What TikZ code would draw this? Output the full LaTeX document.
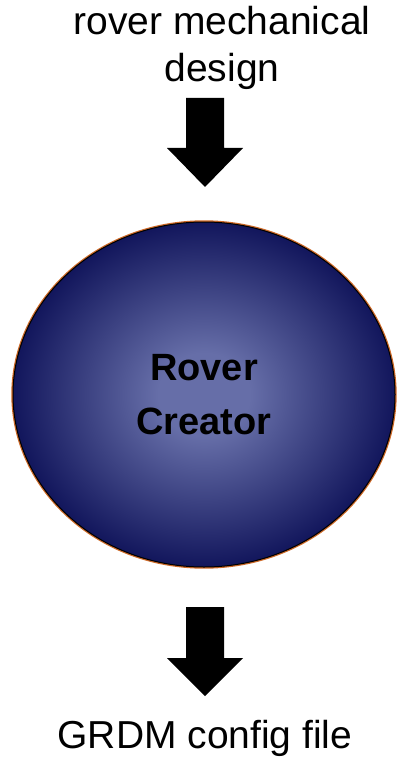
\documentclass[tikz,border=0pt]{standalone}
\usepackage{fontspec}
\setmainfont{Liberation Sans}
\usetikzlibrary{shapes.geometric}
\definecolor{ballin}{RGB}{102,110,168}
\definecolor{ballout}{RGB}{18,22,92}
\definecolor{rimorange}{RGB}{205,105,40}
\pgfdeclareradialshading{roverball}{\pgfpoint{0bp}{0bp}}{color(0bp)=(ballin); color(6bp)=(ballin); color(25bp)=(ballout); color(50bp)=(ballout)}
\tikzset{
  label text/.style={font=\fontsize{39}{47}\selectfont, align=center, inner sep=0pt},
  ball/.style={ellipse, inner sep=0pt, minimum width=382pt, minimum height=345pt,
    shading=roverball, draw=black, line width=1pt,
    preaction={draw=rimorange, line width=3.4pt},
    font=\bfseries\fontsize{38}{54}\selectfont, align=center},
  fat arrow/.style={fill=black}
}
\begin{document}
\begin{tikzpicture}[x=1pt,y=-1pt]
\useasboundingbox (0,0) rectangle (396,759);
\node[label text, anchor=base] (design) at (222,82) {rover mechanical\\design};
\node[ball] (creator) at (204,394.5) {Rover\\Creator};
\node[label text, anchor=base] (grdm) at (205,748) {GRDM config file};
\coordinate (a1) at (205,98);
\coordinate (a2) at (205,607);
\fill[fat arrow] (a1) ++(-19,0) -- ++(38,0) -- ++(0,50) -- ++(19,0) -- ++(-38,39) -- ++(-38,-39) -- ++(19,0) -- cycle;
\fill[fat arrow] (a2) ++(-19,0) -- ++(38,0) -- ++(0,51) -- ++(19,0) -- ++(-38,38) -- ++(-38,-38) -- ++(19,0) -- cycle;
\end{tikzpicture}
\end{document}
